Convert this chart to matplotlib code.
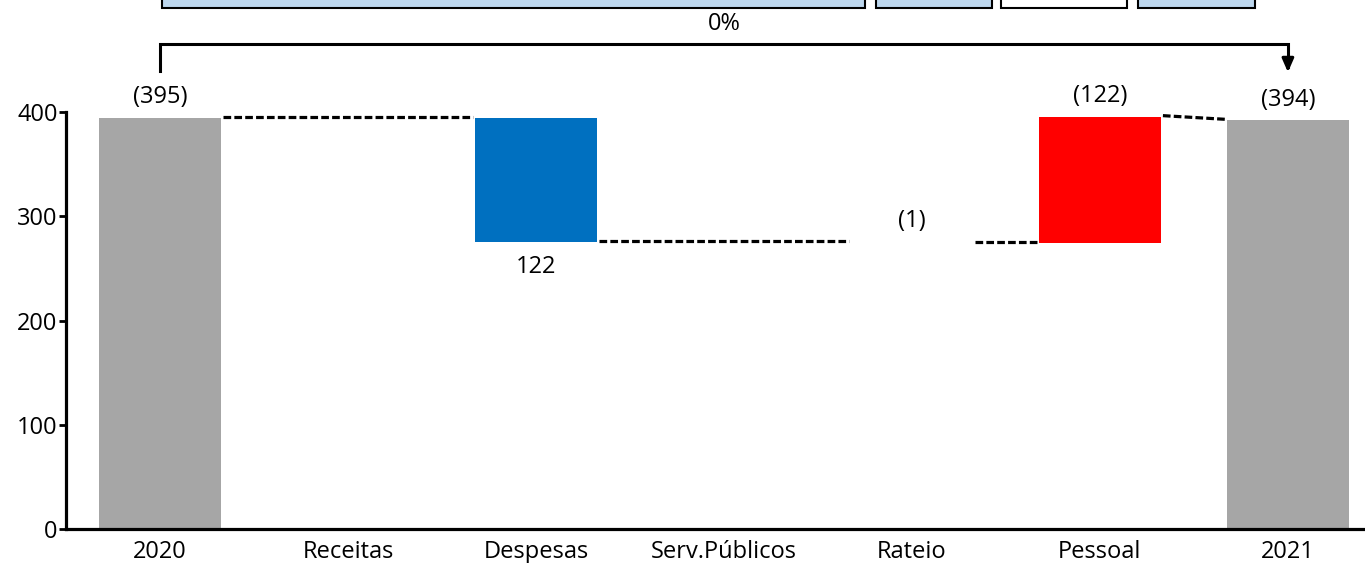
import matplotlib as mpl
mpl.use('Agg')
import matplotlib.pyplot as plt
from matplotlib.patches import Rectangle
import numpy as np

# categories and values
categories = ["2020", "Receitas", "Despesas", "Serv.Públicos", "Rateio", "Pessoal", "2021"]
kinds = ["total", "delta", "delta", "delta", "delta", "delta", "total"]
values = [394, 0, -119, 0, -0.5, 121, 392]
labels = ["(395)", "", "122", "", "(1)", "(122)", "(394)"]
pct_label = "0%"

GRAY = "#A6A6A6"
BLUE = "#0070C0"
RED = "#FF0000"
LIGHT = "#BDD7EE"
FS = 17

plt.rcParams['font.family'] = ['Open Sans', 'DejaVu Sans']

fig = plt.figure(figsize=(13.65, 5.63), dpi=100)
ax = fig.add_axes([66 / 1365, 34 / 563, 1299 / 1365, 417 / 563])

x = np.arange(len(categories))
width = 0.65

# compute bar bottoms/tops
bottoms = []
tops = []
level = 0
for k, v in zip(kinds, values):
    if k == "total":
        bottoms.append(0)
        tops.append(v)
        level = v
    else:
        bottoms.append(level)
        level = level + v
        tops.append(level)

for i, (k, v) in enumerate(zip(kinds, values)):
    if k == "total":
        c = GRAY
    elif abs(v) < 1:
        continue
    elif v < 0:
        c = BLUE
    else:
        c = RED
    ax.bar(x[i], tops[i] - bottoms[i], bottom=bottoms[i], width=width, color=c, zorder=2)

# connectors between visible steps
nz = [i for i in range(len(values)) if kinds[i] == "total" or values[i] != 0]
for a, b in zip(nz[:-1], nz[1:]):
    y0 = tops[a] + 1
    y1 = (bottoms[b] if kinds[b] == "delta" else tops[b]) + 1
    ax.plot([x[a] + width / 2 + 0.01, x[b] - width / 2 - 0.01], [y0, y1], color='black',
            lw=2.3, dashes=(2.4, 1.0), zorder=3, clip_on=False)

# value labels
for i, lab in enumerate(labels):
    if not lab:
        continue
    if kinds[i] == "delta" and values[i] < 0 and abs(values[i]) >= 1:
        ax.annotate(lab, (x[i], tops[i]), xytext=(0, -18), textcoords='offset points',
                    ha='center', va='center', fontsize=FS, annotation_clip=False)
    else:
        ax.annotate(lab, (x[i], max(tops[i], bottoms[i])), xytext=(0, 15), textcoords='offset points',
                    ha='center', va='center', fontsize=FS, annotation_clip=False)

# bracket from first to last total
top = max(tops)
by = top + 70
ax.plot([x[0], x[0], x[-1], x[-1]], [top + 44, by, by, top + 48], color='black', lw=2.2,
        clip_on=False, solid_joinstyle='miter')
ax.annotate("", xy=(x[-1], top + 40), xytext=(x[-1], top + 56),
            arrowprops=dict(arrowstyle='-|>,head_width=0.35,head_length=0.8', color='black', lw=2.2),
            annotation_clip=False)
ax.text((x[0] + x[-1]) / 2, by + 19, pct_label, ha='center', va='center', fontsize=FS)

ax.set_xlim(-0.5, 6.41)
ax.set_ylim(0, 400)
ax.set_yticks([0, 100, 200, 300, 400])
ax.set_xticks(x)
ax.set_xticklabels(categories)
ax.tick_params(axis='x', length=0, labelsize=FS, pad=8)
ax.tick_params(axis='y', length=5, width=2, labelsize=FS, pad=1)
for s in ['top', 'right']:
    ax.spines[s].set_visible(False)
for s in ['left', 'bottom']:
    ax.spines[s].set_linewidth(2.3)

# cropped header boxes at the very top
boxes = [(162, 865, LIGHT), (876, 992, LIGHT), (1001, 1127, "white"), (1138, 1255, LIGHT)]
for x0, x1, c in boxes:
    fig.patches.append(Rectangle((x0 / 1365, (563 - 8) / 563), (x1 - x0) / 1365, 0.05,
                                 transform=fig.transFigure, facecolor=c, edgecolor='black',
                                 lw=1.5, clip_on=False))

fig.savefig('out.png', dpi=100)
